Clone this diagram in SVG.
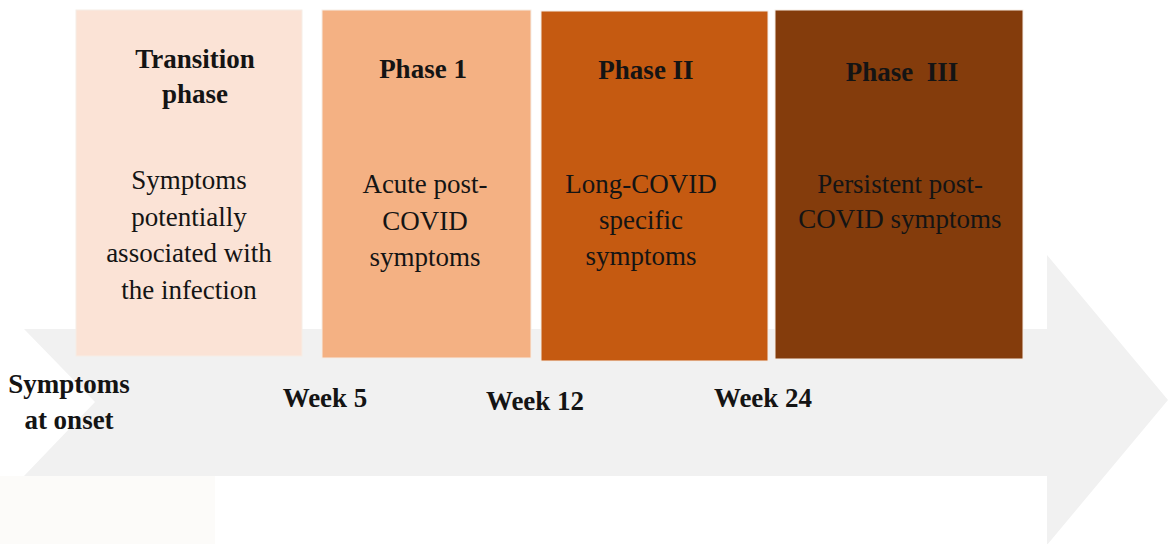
<svg xmlns="http://www.w3.org/2000/svg" width="1168" height="544" viewBox="0 0 1168 544">
<style>
.t{font-family:"Liberation Serif","Times New Roman",serif;font-size:27px;fill:#141414;text-anchor:middle}
.b{font-weight:bold}
.box{stroke:#f6ede6;stroke-width:1}
</style>
<rect width="1168" height="544" fill="#ffffff"/>
<rect x="0" y="476" width="215" height="68" fill="#fcfbf9"/>
<g id="connectors">
<polygon points="24,329 1047,329 1047,255 1168,400 1047,545 1047,476 24,476 95,402" fill="#f1f1f1"/>
</g>
<g id="transition">
<rect class="box" x="76" y="10" width="226" height="346" fill="#fbe3d6"/>
<text class="t b" x="195" y="68">Transition</text>
<text class="t b" x="195" y="103">phase</text>
<text class="t" x="189" y="189">Symptoms</text>
<text class="t" x="189" y="226">potentially</text>
<text class="t" x="189" y="262">associated with</text>
<text class="t" x="189" y="299">the infection</text>
</g>
<g id="phase1">
<rect class="box" x="322" y="10" width="209" height="348" fill="#f4b183"/>
<text class="t b" x="423" y="78">Phase 1</text>
<text class="t" x="425" y="193">Acute post-</text>
<text class="t" x="425" y="230">COVID</text>
<text class="t" x="425" y="266">symptoms</text>
</g>
<g id="phase2">
<rect class="box" x="541" y="11" width="227" height="350" fill="#c55a11"/>
<text class="t b" x="646" y="79">Phase II</text>
<text class="t" x="641" y="193">Long-COVID</text>
<text class="t" x="641" y="229">specific</text>
<text class="t" x="641" y="265">symptoms</text>
</g>
<g id="phase3">
<rect class="box" x="775" y="10" width="248" height="349" fill="#843c0c"/>
<text class="t b" x="902" y="81" xml:space="preserve">Phase  III</text>
<text class="t" x="900" y="193">Persistent post-</text>
<text class="t" x="900" y="228">COVID symptoms</text>
</g>
<g id="labels">
<text class="t b" x="69" y="393">Symptoms</text>
<text class="t b" x="69" y="429">at onset</text>
<text class="t b" x="325" y="407">Week 5</text>
<text class="t b" x="535" y="410">Week 12</text>
<text class="t b" x="763" y="407">Week 24</text>
</g>
</svg>
